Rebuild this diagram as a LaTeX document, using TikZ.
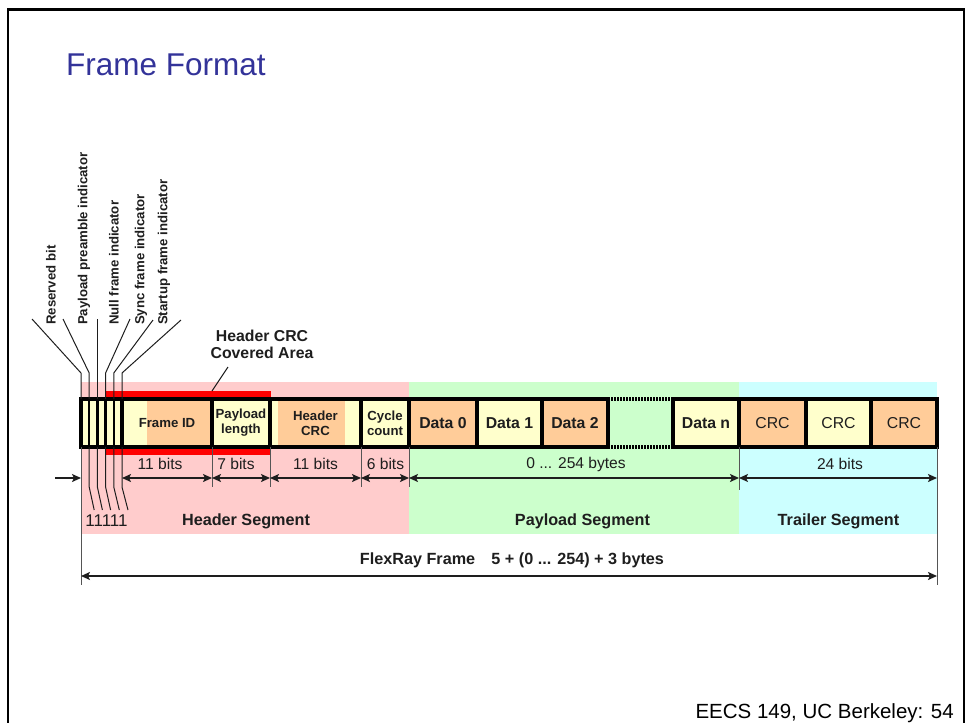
\documentclass[tikz,border=0pt]{standalone}
\usepackage{fontspec}
\setmainfont{Liberation Sans}
\usetikzlibrary{arrows.meta}
\definecolor{hdrbg}{HTML}{FFCCCC}
\definecolor{paybg}{HTML}{CCFFCC}
\definecolor{trlbg}{HTML}{CCFFFF}
\definecolor{fldorange}{HTML}{FFCC99}
\definecolor{fldyellow}{HTML}{FFFFCC}
\definecolor{titleblue}{RGB}{51,51,153}
\definecolor{ink}{HTML}{1E1E1E}
\definecolor{tickgray}{HTML}{555555}
\begin{document}
\begin{tikzpicture}[x=1pt,y=-1pt,
  box/.style={inner sep=0pt, outer sep=0pt, anchor=north west, minimum height=48pt},
  field/.style={box, text=ink, align=center,
    font=\fontsize{13.2}{15}\selectfont\bfseries},
  bigfield/.style={field, font=\fontsize{15.8}{17}\selectfont\bfseries},
  bitbox/.style={box, fill=fldyellow, minimum width=8.2pt},
  edge/.style={draw=black, line width=3.4pt},
  bitedge/.style={draw=black, line width=2.4pt},
  segbg/.style={inner sep=0pt, outer sep=0pt, anchor=north west, minimum height=152pt},
  seglabel/.style={text=ink, font=\fontsize{16.2}{18}\selectfont\bfseries},
  sizelabel/.style={text=ink, font=\fontsize{15.6}{17}\selectfont},
  bitname/.style={rotate=90, anchor=west, inner sep=0pt, text=ink,
    font=\fontsize{13.2}{14}\selectfont\bfseries},
  lead/.style={draw=ink, line width=1pt},
  tickline/.style={draw=tickgray, line width=1pt},
  dim/.style={draw=ink, line width=1.5pt,
    {Stealth[length=9pt,width=8pt,inset=2pt]}-{Stealth[length=9pt,width=8pt,inset=2pt]}},
  onedim/.style={draw=ink, line width=1.5pt, -{Stealth[length=9pt,width=8pt,inset=2pt]}},
]
\useasboundingbox (0,0) rectangle (967,723);

% slide frame and headings
\draw[line width=2.5pt, line cap=rect] (8,723) -- (8,9.5) -- (964,9.5) -- (964,723);
\node[anchor=base west, inner sep=0pt, text=titleblue, font=\fontsize{31.5}{34}\selectfont] (title) at (66,75) {Frame Format};
\node[anchor=base east, inner sep=0pt, text=black, font=\fontsize{20.5}{22}\selectfont] (footer) at (954,718) {EECS 149, UC Berkeley: 54};

% reference heights
\coordinate (bendline) at (0,373);
\coordinate (dimline) at (0,478);
\coordinate (lowbend) at (0,487);
\coordinate (totline) at (0,576);

% segment backgrounds
\node[segbg, fill=hdrbg, minimum width=328pt] (hseg) at (81,382) {};
\node[segbg, fill=paybg, minimum width=330pt] (pseg) at (409,382) {};
\node[segbg, fill=trlbg, minimum width=198pt] (tseg) at (739,382) {};

% area protected by the header CRC
\node[box, fill=red, minimum width=165pt, minimum height=64pt] (crcarea) at (106,391) {};

% indicator bits
\node[bitbox] (b1) at (81,399) {};
\node[bitbox] (b2) at (89.2,399) {};
\node[bitbox] (b3) at (97.4,399) {};
\node[bitbox] (b4) at (105.6,399) {};
\node[bitbox] (b5) at (113.8,399) {};

% header fields
\fill[fldyellow] (122,399) rectangle (147,447);
\fill[fldorange] (147,399) rectangle (212,447);
\node[field, minimum width=90pt] (fid) at (122,399) {Frame ID};
\node[field, fill=fldyellow, minimum width=58pt] (plen) at (212,399) {Payload\\length};
\fill[fldyellow] (270,399) rectangle (278,447);
\fill[fldorange] (278,399) rectangle (345,447);
\fill[fldyellow] (345,399) rectangle (361,447);
\node[field, minimum width=91pt] (hcrc) at (270,399) {Header\\CRC};
\node[field, fill=fldyellow, minimum width=48pt] (cyc) at (361,399) {Cycle\\count};

% payload bytes
\node[bigfield, fill=fldorange, minimum width=68pt] (d0) at (409,399) {Data 0};
\node[bigfield, fill=fldyellow, minimum width=65pt] (d1) at (477,399) {Data 1};
\node[bigfield, fill=fldorange, minimum width=66pt] (d2) at (542,399) {Data 2};
\node[box, minimum width=65pt] (gap) at (608,399) {};
\node[bigfield, fill=fldyellow, minimum width=66pt] (dn) at (673,399) {Data n};

% trailer
\node[bigfield, fill=fldorange, minimum width=67pt, font=\fontsize{15.8}{17}\selectfont] (c1) at (739,399) {CRC};
\node[bigfield, fill=fldyellow, minimum width=65pt, font=\fontsize{15.8}{17}\selectfont] (c2) at (806,399) {CRC};
\node[bigfield, fill=fldorange, minimum width=66pt, font=\fontsize{15.8}{17}\selectfont] (c3) at (871,399) {CRC};

% field outlines
\foreach \b in {b2,b3,b4,b5}
  \draw[bitedge] (\b.north west) -- (\b.south west);
\draw[edge] (b1.north west) rectangle (b5.south east);
\foreach \f in {fid,plen,hcrc,cyc,d0,d1,d2,dn,c1,c2,c3}
  \draw[edge] (\f.north west) rectangle (\f.south east);
\draw[line width=3.2pt, dash pattern=on 1.6pt off 1.4pt] (gap.north west) -- (gap.north east);
\draw[line width=3.2pt, dash pattern=on 1.6pt off 1.4pt] (gap.south west) -- (gap.south east);

% indicator bit names and their leaders
\node[bitname] (nres) at (51,325) {Reserved bit};
\node[bitname] (npre) at (84,325) {Payload preamble indicator};
\node[bitname] (nnull) at (114,325) {Null frame indicator};
\node[bitname] (nsync) at (141,325) {Sync frame indicator};
\node[bitname] (nstart) at (164,325) {Startup frame indicator};
\coordinate (u1) at (32,319);
\coordinate (u2) at (63,319);
\coordinate (u3) at (97.4,319);
\coordinate (u4) at (130,319);
\coordinate (u5) at (153,320);
\coordinate (u6) at (181,320);
\draw[lead] (u1) -- (b1.north west |- bendline) -- (b1.north west);
\draw[lead] (u2) -- (b2.north west |- bendline) -- (b2.north west);
\draw[lead] (u3) -- (b3.north west);
\draw[lead] (u4) -- (b4.north west |- bendline) -- (b4.north west);
\draw[lead] (u5) -- (b5.north west |- bendline) -- (b5.north west);
\draw[lead] (u6) -- (b5.north east |- bendline) -- (b5.north east);

% bit values
\draw[lead] (b2.south west) -- (b2.south west |- lowbend) -- ++(5,23);
\draw[lead] (b3.south west) -- (b3.south west |- lowbend) -- ++(5,23);
\draw[lead] (b4.south west) -- (b4.south west |- lowbend) -- ++(5,23);
\draw[lead] (b5.south west) -- (b5.south west |- lowbend) -- ++(5.5,23);
\draw[lead] (b5.south east) -- (b5.south east |- lowbend) -- ++(6,23);
\node[sizelabel, inner sep=0pt, font=\fontsize{17}{17}\selectfont] (ones) at (106.5,521) {11111};

% header CRC covered area label
\node[seglabel, align=center, font=\fontsize{15.8}{17}\selectfont\bfseries] (crclabel) at (262,344) {Header CRC\\Covered Area};
\coordinate (crcpoint) at (212,391);
\draw[lead] (228,367) -- (crcpoint);

% field size ticks
\draw[tickline] (b1.south west) -- (b1.south west |- 0,585);
\draw[tickline] (fid.south east) -- (fid.south east |- lowbend);
\draw[tickline] (plen.south east) -- (plen.south east |- lowbend);
\draw[tickline] (hcrc.south east) -- (hcrc.south east |- lowbend);
\draw[tickline] (cyc.south east) -- (cyc.south east |- lowbend);
\draw[tickline] (dn.south east) -- (dn.south east |- 0,490);
\draw[tickline] (c3.south east) -- (c3.south east |- 0,585);

% field size arrows
\coordinate (inarrow) at (55,478);
\draw[onedim] (inarrow) -- (b1.south west |- dimline);
\draw[dim] (b5.south east |- dimline) -- (fid.south east |- dimline);
\draw[dim] (plen.south west |- dimline) -- (plen.south east |- dimline);
\draw[dim] (hcrc.south west |- dimline) -- (hcrc.south east |- dimline);
\draw[dim] (cyc.south west |- dimline) -- (cyc.south east |- dimline);
\draw[dim] (d0.south west |- dimline) -- (dn.south east |- dimline);
\draw[dim] (c1.south west |- dimline) -- (c3.south east |- dimline);

\node[sizelabel] (s1) at (160,464) {11 bits};
\node[sizelabel] (s2) at (236,464) {7 bits};
\node[sizelabel] (s3) at (315.5,464) {11 bits};
\node[sizelabel] (s4) at (385.5,464) {6 bits};
\node[sizelabel] (s5) at (576,464) {0 ... 254 bytes};
\node[sizelabel] (s6) at (840,464) {24 bits};

% segment names
\node[seglabel] (hname) at (246,521) {Header Segment};
\node[seglabel] (pname) at (582.5,521) {Payload Segment};
\node[seglabel] (tname) at (838.5,521) {Trailer Segment};

% whole frame
\draw[dim, line width=1.8pt] (b1.south west |- totline) -- (c3.south east |- totline);
\node[text=ink, font=\fontsize{16.2}{17}\selectfont\bfseries] (total) at (512,560) {FlexRay Frame\quad 5 + (0 ... 254) + 3 bytes};
\end{tikzpicture}
\end{document}
